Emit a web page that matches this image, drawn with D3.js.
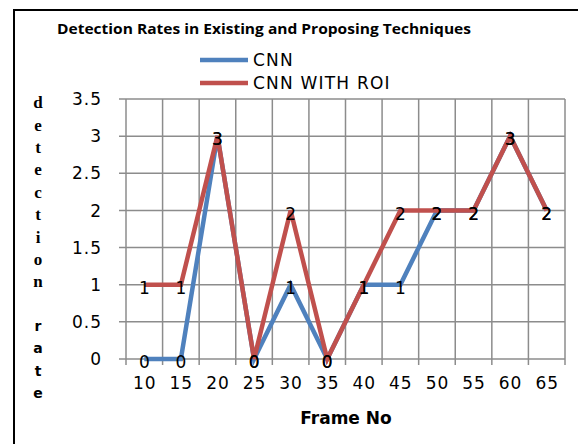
<!DOCTYPE html>
<html>
<head>
<meta charset="utf-8">
<script src="https://cdn.jsdelivr.net/npm/d3@7"></script>
<style>
  body { margin: 0; background: #fff; }
  svg { display: block; }
</style>
</head>
<body>
<svg id="chart"></svg>
<script>
// chart data
const frames = ["10", "15", "20", "25", "30", "35", "40", "45", "50", "55", "60", "65"];
const cnn = [0, 0, 3, 0, 1, 0, 1, 1, 2, 2, 3, 2];
const cnnRoi = [1, 1, 3, 0, 2, 0, 1, 2, 2, 2, 3, 2];
const yTicks = [0, 0.5, 1, 1.5, 2, 2.5, 3, 3.5];
const seriesNames = ["CNN", "CNN WITH ROI"];
const colors = ["#4F81BD", "#C0504D"];

const width = 578, height = 444;
const svg = d3.select("#chart").attr("width", width).attr("height", height);

const labelFont = "DejaVu Sans, Verdana, sans-serif";

// outer frame (only top and left edges are visible in the picture)
svg.append("rect")
  .attr("x", 14).attr("y", 10)
  .attr("width", 700).attr("height", 600)
  .attr("fill", "none")
  .attr("stroke", "black")
  .attr("stroke-width", 2);

// plot area
const plotLeft = 126, plotRight = 565, plotTop = 99, plotBottom = 359;

const x = d3.scaleBand().domain(frames).range([plotLeft, plotRight]).paddingInner(0).paddingOuter(0);
const y = d3.scaleLinear().domain([0, 3.5]).range([plotBottom, plotTop]);
const cx = d => x(d) + x.bandwidth() / 2;

// horizontal gridlines + left tick marks
svg.append("g").selectAll("line")
  .data(yTicks)
  .enter()
  .append("line")
  .attr("x1", plotLeft - 7)
  .attr("x2", plotRight)
  .attr("y1", d => y(d))
  .attr("y2", d => y(d))
  .attr("stroke", "#8c8c8c")
  .attr("stroke-width", 1.5);

// vertical gridlines at category boundaries + bottom tick marks
const bounds = frames.map(f => x(f)).concat([plotRight]);
svg.append("g").selectAll("line")
  .data(bounds)
  .enter()
  .append("line")
  .attr("x1", d => d)
  .attr("x2", d => d)
  .attr("y1", plotTop)
  .attr("y2", plotBottom + 6)
  .attr("stroke", "#8c8c8c")
  .attr("stroke-width", 1.5);

// y tick labels
svg.append("g").selectAll("text")
  .data(yTicks)
  .enter()
  .append("text")
  .attr("x", 102)
  .attr("y", d => y(d))
  .attr("dy", "0.36em")
  .attr("text-anchor", "end")
  .attr("font-family", labelFont)
  .attr("font-size", 17)
  .attr("letter-spacing", 1)
  .text(d => d);

// x tick labels
svg.append("g").selectAll("text")
  .data(frames)
  .enter()
  .append("text")
  .attr("x", d => cx(d) + 0.5)
  .attr("y", 383)
  .attr("dy", "0.36em")
  .attr("text-anchor", "middle")
  .attr("font-family", labelFont)
  .attr("font-size", 17)
  .attr("letter-spacing", 1)
  .text(d => d);

// lines
const line = d3.line()
  .x((d, i) => cx(frames[i]))
  .y(d => y(d));

[cnn, cnnRoi].forEach((s, k) => {
  svg.append("path")
    .datum(s)
    .attr("d", line)
    .attr("fill", "none")
    .attr("stroke", colors[k])
    .attr("stroke-width", 4.5)
    .attr("stroke-linejoin", "miter");
});

// data labels
[cnn, cnnRoi].forEach(s => {
  svg.append("g").selectAll("text")
    .data(s)
    .enter()
    .append("text")
    .attr("x", (d, i) => cx(frames[i]))
    .attr("y", d => y(d) + 3)
    .attr("dy", "0.36em")
    .attr("text-anchor", "middle")
    .attr("font-family", labelFont)
    .attr("font-size", 17)
    .attr("fill", "black")
    .text(d => d);
});

// title
svg.append("text")
  .attr("x", 264)
  .attr("y", 34)
  .attr("text-anchor", "middle")
  .attr("font-family", "Open Sans, Liberation Sans, sans-serif")
  .attr("font-weight", "bold")
  .attr("font-size", 14.5)
  .attr("textLength", 414)
  .attr("lengthAdjust", "spacingAndGlyphs")
  .text("Detection Rates in Existing and Proposing Techniques");

// legend
const legend = svg.append("g").selectAll("g")
  .data(seriesNames)
  .enter()
  .append("g")
  .attr("transform", (d, i) => `translate(200, ${60 + i * 23})`);

legend.append("line")
  .attr("x1", 0).attr("x2", 48)
  .attr("y1", 0).attr("y2", 0)
  .attr("stroke", (d, i) => colors[i])
  .attr("stroke-width", 4.5);

legend.append("text")
  .attr("x", 53)
  .attr("y", 0)
  .attr("dy", "0.36em")
  .attr("font-family", labelFont)
  .attr("font-size", 17)
  .attr("letter-spacing", 1.2)
  .text(d => d);

// y axis title as stacked letters
const yTitle = "detection rate".split("");
svg.append("g").selectAll("text")
  .data(yTitle)
  .enter()
  .append("text")
  .attr("x", 38)
  .attr("y", (d, i) => 102 + i * 22.4)
  .attr("dy", "0.36em")
  .attr("text-anchor", "middle")
  .attr("font-family", (d, i) => i < 9 ? "Liberation Serif, serif" : "DejaVu Sans, sans-serif")
  .attr("font-weight", "bold")
  .attr("font-size", (d, i) => i < 9 ? 17 : 14)
  .text(d => d);

// x axis title
svg.append("text")
  .attr("x", 346)
  .attr("y", 418)
  .attr("dy", "0.36em")
  .attr("text-anchor", "middle")
  .attr("font-family", "DejaVu Sans, Verdana, sans-serif")
  .attr("font-weight", "bold")
  .attr("font-size", 17)
  .text("Frame No");
</script>
</body>
</html>
